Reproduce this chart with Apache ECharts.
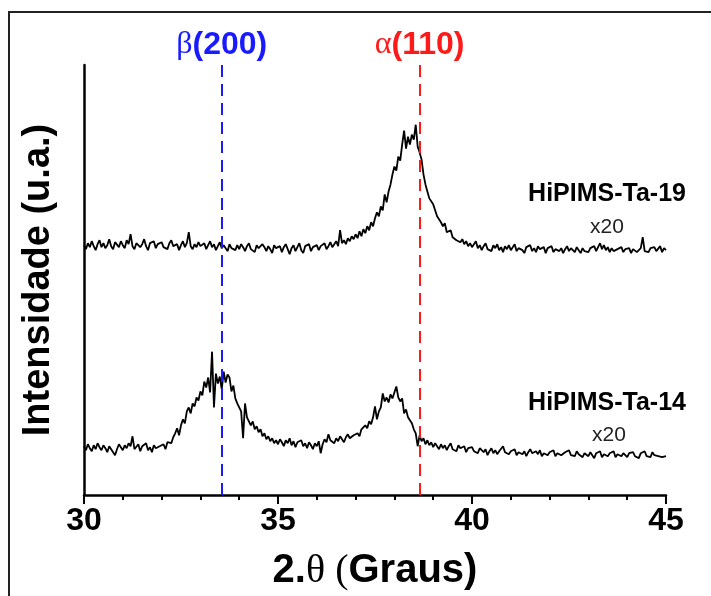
<!DOCTYPE html>
<html>
<head>
<meta charset="utf-8">
<script src="https://cdn.jsdelivr.net/npm/echarts@6/dist/echarts.min.js"></script>
<style>
  html, body { margin: 0; padding: 0; background: #fff; }
  #chart { width: 711px; height: 596px; }
</style>
</head>
<body>
<div id="chart"></div>
<script>
// XRD scans, 2θ from 30° to 45° in 0.05° steps (arbitrary intensity units, offset per sample)
const scanStart = 30;
const scanStep = 0.05;

// HiPIMS-Ta-19 (x20)
const ta19 = [
  251, 247, 253, 249, 255, 250, 246, 252, 256, 249, 253, 248, 251, 257, 250, 247, 254, 252, 249, 255,
  251, 248, 256, 252, 262, 250, 247, 253, 255, 249, 252, 257, 250, 246, 253, 251, 255, 248, 252, 250,
  254, 249, 251, 247, 253, 256, 250, 248, 252, 246, 251, 255, 249, 253, 264, 250, 247, 252, 249, 254,
  250, 248, 253, 247, 251, 255, 249, 252, 246, 250, 254, 248, 251, 249, 245, 252, 248, 250, 246, 251,
  247, 252, 249, 245, 250, 253, 247, 249, 244, 251, 248, 246, 252, 249, 245, 250, 247, 243, 251, 248,
  246, 250, 244, 249, 252, 247, 242, 248, 251, 245, 249, 253, 246, 243, 250, 248, 252, 245, 249, 247,
  251, 246, 250, 248, 253, 247, 250, 254, 249, 252, 255, 250, 266, 253, 256, 252, 258, 255, 260, 257,
  262, 258, 265, 260, 267, 263, 270, 266, 274, 270, 278, 284, 280, 290, 286, 302, 294, 305, 312, 322,
  330, 326, 340, 336, 352, 366, 348, 360, 352, 362, 357, 372, 350, 344, 337, 322, 312, 305, 298, 300,
  292, 286, 280, 282, 274, 270, 273, 264, 262, 266, 259, 261, 256, 258, 254, 257, 252, 255, 250, 253,
  249, 252, 255, 248, 251, 246, 250, 253, 247, 249, 245, 251, 248, 252, 246, 249, 244, 250, 247, 251,
  246, 249, 252, 245, 248, 250, 246, 243, 249, 247, 251, 245, 248, 244, 250, 247, 245, 249, 243, 248,
  246, 250, 244, 247, 249, 245, 248, 243, 247, 250, 245, 248, 246, 244, 249, 247, 243, 248, 245, 247,
  244, 248, 246, 250, 245, 249, 253, 247, 251, 246, 249, 244, 248, 245, 243, 247, 246, 249, 244, 247,
  245, 248, 243, 247, 249, 244, 246, 248, 259, 245, 247, 244, 248, 246, 249, 245, 247, 250, 244, 248,
  246
];

// HiPIMS-Ta-14 (x20)
const ta14 = [
  49, 45, 51, 47, 44, 50, 46, 52, 48, 45, 50, 47, 43, 49, 46, 44, 40, 46, 51, 48,
  45, 50, 47, 52, 49, 59, 46, 48, 51, 44, 49, 47, 52, 45, 48, 43, 50, 47, 45, 49,
  47, 51, 46, 53, 55, 52, 58, 62, 67, 60, 70, 76, 72, 84, 88, 82, 92, 89, 98, 95,
  104, 100, 114, 108, 118, 103, 144, 88, 122, 112, 119, 106, 124, 113, 121, 118, 104, 110, 97, 92,
  88, 84, 57, 92, 78, 74, 70, 74, 66, 69, 63, 66, 59, 62, 56, 59, 54, 57, 52, 55,
  51, 56, 53, 49, 55, 52, 57, 50, 54, 48, 53, 51, 55, 49, 52, 47, 53, 50, 46, 52,
  49, 54, 42, 51, 56, 53, 61, 55, 53, 52, 57, 54, 59, 56, 53, 58, 61, 57, 55, 60,
  58, 62, 59, 66, 64, 70, 67, 74, 71, 78, 89, 76, 84, 88, 102, 94, 98, 93, 101, 97,
  103, 109, 98, 94, 97, 82, 86, 78, 80, 72, 66, 62, 49, 60, 54, 57, 51, 55, 50, 53,
  48, 52, 49, 46, 51, 47, 50, 45, 49, 52, 46, 48, 44, 50, 47, 45, 49, 43, 47, 45,
  48, 44, 46, 42, 47, 45, 43, 46, 40, 44, 47, 42, 45, 41, 44, 46, 49, 43, 45, 41,
  44, 42, 46, 40, 43, 45, 41, 44, 39, 43, 46, 42, 40, 44, 41, 45, 39, 42, 44, 40,
  43, 41, 45, 39, 42, 44, 40, 38, 43, 41, 45, 40, 42, 39, 44, 41, 43, 38, 42, 40,
  39, 43, 41, 37, 42, 40, 44, 38, 41, 43, 39, 42, 40, 44, 38, 41, 43, 39, 42, 40,
  38, 42, 40, 43, 39, 41, 37, 42, 40, 44, 39, 41, 38, 43, 40, 42, 39, 41, 38, 40,
  39
];

// Reference peak positions (2θ)
const peakNames = ['β', 'α'];
const peakPlanes = ['(200)', '(110)'];
const peakAngles = [33.55, 38.65];
const peakColors = ['#1a1aff', '#ff1a1a'];

const xTicks = [30, 35, 40, 45];

const sampleNames = ['HiPIMS-Ta-19', 'HiPIMS-Ta-14'];
const scaleNote = 'x20';

function toPairs(values) {
  return values.map((v, i) => [+(scanStart + i * scanStep).toFixed(2), v]);
}

const sans = '"Liberation Sans", Arial, sans-serif';
const serif = '"Liberation Serif", "Times New Roman", serif';

const chart = echarts.init(document.getElementById('chart'), null, { renderer: 'canvas' });

const peakLines = peakAngles.map((a, k) => ({
  xAxis: a,
  lineStyle: { color: peakColors[k], type: [12, 7], width: 2 },
  label: {
    show: true,
    position: 'end',
    distance: 4,
    formatter: '{g|' + peakNames[k] + '}{b|' + peakPlanes[k] + '}',
    rich: {
      g: { fontFamily: serif, fontSize: 32, color: peakColors[k] },
      b: { fontFamily: sans, fontWeight: 'bold', fontSize: 32, color: peakColors[k] }
    }
  }
}));

chart.setOption({
  animation: false,
  backgroundColor: '#fff',
  grid: { left: 84, right: 45, top: 65, bottom: 99 },
  xAxis: {
    type: 'value',
    min: xTicks[0],
    max: xTicks[xTicks.length - 1],
    interval: 5,
    name: '{b|2.}{t|θ (}{b|Graus)}',
    nameLocation: 'middle',
    nameGap: 56,
    nameTextStyle: {
      rich: {
        b: { fontFamily: sans, fontWeight: 'bold', fontSize: 40, color: '#000' },
        t: { fontFamily: serif, fontSize: 40, color: '#000' }
      }
    },
    axisLine: { show: true, onZero: false, lineStyle: { color: '#000', width: 2.5 } },
    axisTick: { show: true, length: 9, lineStyle: { color: '#000', width: 2 } },
    minorTick: { show: true, splitNumber: 5, length: 5, lineStyle: { color: '#000', width: 2 } },
    axisLabel: {
      margin: 10,
      fontFamily: sans,
      fontWeight: 'bold',
      fontSize: 32,
      color: '#000'
    },
    splitLine: { show: false }
  },
  yAxis: {
    type: 'value',
    min: 0,
    max: 432,
    name: 'Intensidade (u.a.)',
    nameLocation: 'middle',
    nameGap: 26,
    nameTextStyle: { fontFamily: sans, fontWeight: 'bold', fontSize: 38, color: '#000' },
    axisLine: { show: true, onZero: false, lineStyle: { color: '#000', width: 2.5 } },
    axisTick: { show: false },
    axisLabel: { show: false },
    splitLine: { show: false }
  },
  series: [
    {
      name: sampleNames[0],
      type: 'line',
      data: toPairs(ta19),
      showSymbol: false,
      lineStyle: { color: '#000', width: 1.8 },
      markLine: {
        silent: true,
        symbol: ['none', 'none'],
        data: peakLines
      },
      z: 3
    },
    {
      name: sampleNames[1],
      type: 'line',
      data: toPairs(ta14),
      showSymbol: false,
      lineStyle: { color: '#000', width: 1.8 },
      z: 3
    }
  ],
  graphic: [
    {
      type: 'rect',
      shape: { x: 9, y: 12, width: 820, height: 720 },
      style: { fill: 'none', stroke: '#222', lineWidth: 2 },
      silent: true
    },
    {
      type: 'text', right: 25, top: 182,
      style: { text: sampleNames[0], font: 'bold 25px ' + sans, fill: '#000' }
    },
    {
      type: 'text', left: 590, top: 217,
      style: { text: scaleNote, font: '21px ' + sans, fill: '#222' }
    },
    {
      type: 'text', right: 25, top: 391,
      style: { text: sampleNames[1], font: 'bold 25px ' + sans, fill: '#000' }
    },
    {
      type: 'text', left: 592, top: 425,
      style: { text: scaleNote, font: '21px ' + sans, fill: '#222' }
    }
  ]
});
</script>
</body>
</html>
